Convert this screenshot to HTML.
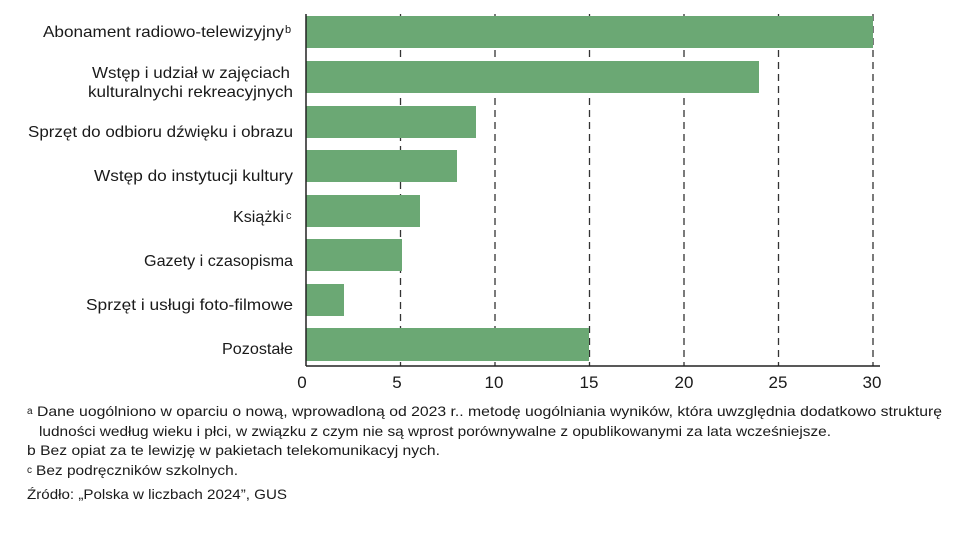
<!DOCTYPE html>
<html><head><meta charset="utf-8"><style>body{margin:0;background:#fff}svg{display:block}text{font-family:"Liberation Sans",sans-serif;fill:#1a1a1a}</style></head>
<body>
<svg width="959" height="538" xmlns="http://www.w3.org/2000/svg">
<g stroke="#333" stroke-width="1.3" stroke-dasharray="7,5">
<line x1="400.5" y1="14" x2="400.5" y2="366"/><line x1="495" y1="14" x2="495" y2="366"/><line x1="589.5" y1="14" x2="589.5" y2="366"/><line x1="684" y1="14" x2="684" y2="366"/><line x1="778.5" y1="14" x2="778.5" y2="366"/><line x1="873" y1="14" x2="873" y2="366"/>
</g>
<g fill="#6ba874">
<rect x="306" y="16" width="567" height="32"/>
<rect x="306" y="61" width="453" height="32"/>
<rect x="306" y="106" width="170" height="32"/>
<rect x="306" y="150" width="151" height="32"/>
<rect x="306" y="195" width="114" height="32"/>
<rect x="306" y="239" width="96" height="32"/>
<rect x="306" y="284" width="38" height="32"/>
<rect x="306" y="328" width="283" height="33"/>
</g>
<line x1="306" y1="14" x2="306" y2="366" stroke="#222" stroke-width="1.5"/>
<line x1="306" y1="366" x2="880" y2="366" stroke="#222" stroke-width="1.5"/>
<g font-size="17" text-anchor="middle">
<text x="302" y="388">0</text><text x="397" y="388">5</text><text x="494" y="388">10</text><text x="589" y="388">15</text><text x="684" y="388">20</text><text x="778" y="388">25</text><text x="872" y="388">30</text>
</g>
<g font-size="16" lengthAdjust="spacingAndGlyphs">
<text x="43" y="37" textLength="241" lengthAdjust="spacingAndGlyphs">Abonament radiowo-telewizyjny</text><text x="285" y="33" font-size="11">b</text>
<text x="92" y="78" textLength="198" lengthAdjust="spacingAndGlyphs">Wstęp i udział w zajęciach</text>
<text x="88" y="97" textLength="205" lengthAdjust="spacingAndGlyphs">kulturalnychi rekreacyjnych</text>
<text x="28" y="137" textLength="265" lengthAdjust="spacingAndGlyphs">Sprzęt do odbioru dźwięku i obrazu</text>
<text x="94" y="181" textLength="199" lengthAdjust="spacingAndGlyphs">Wstęp do instytucji kultury</text>
<text x="233" y="222" textLength="51" lengthAdjust="spacingAndGlyphs">Książki</text><text x="286" y="219" font-size="11">c</text>
<text x="144" y="266" textLength="149" lengthAdjust="spacingAndGlyphs">Gazety i czasopisma</text>
<text x="86" y="310" textLength="207" lengthAdjust="spacingAndGlyphs">Sprzęt i usługi foto-filmowe</text>
<text x="222" y="354" textLength="71" lengthAdjust="spacingAndGlyphs">Pozostałe</text>
</g>
<g font-size="14">
<text x="27" y="414" font-size="10">a</text>
<text x="37" y="416" textLength="905" lengthAdjust="spacingAndGlyphs">Dane uogólniono w oparciu o nową, wprowadloną od 2023 r.. metodę uogólniania wyników, która uwzględnia dodatkowo strukturę</text>
<text x="39" y="436" textLength="792" lengthAdjust="spacingAndGlyphs">ludności według wieku i płci, w związku z czym nie są wprost porównywalne z opublikowanymi za lata wcześniejsze.</text>
<text x="27" y="455" textLength="413" lengthAdjust="spacingAndGlyphs">b Bez opiat za te lewizję w pakietach telekomunikacyj nych.</text>
<text x="27" y="473" font-size="10">c</text>
<text x="36" y="475" textLength="202" lengthAdjust="spacingAndGlyphs">Bez podręczników szkolnych.</text>
<text x="27" y="499" textLength="260" lengthAdjust="spacingAndGlyphs">Źródło: „Polska w liczbach 2024”, GUS</text>
</g>
</svg>
</body></html>
